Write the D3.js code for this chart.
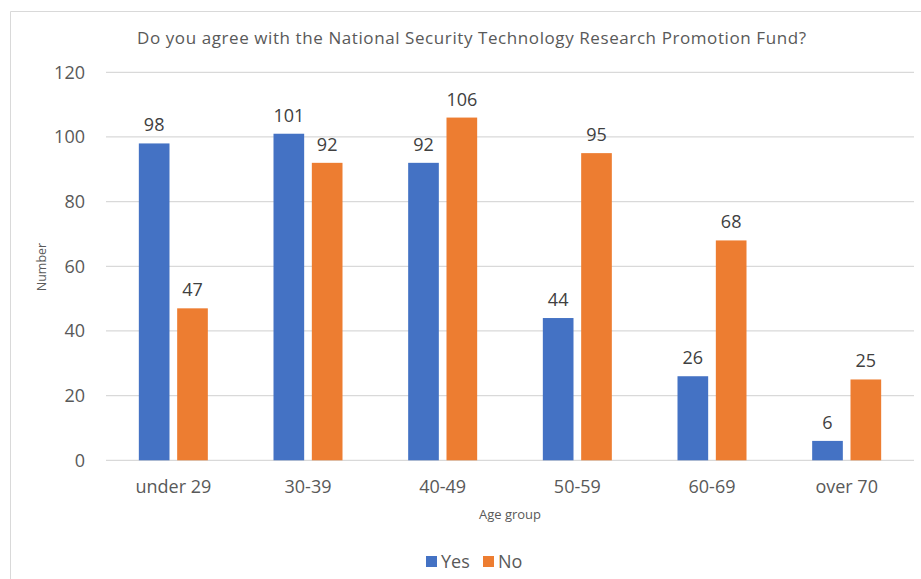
<!DOCTYPE html>
<html>
<head>
<meta charset="utf-8">
<script src="https://cdn.jsdelivr.net/npm/d3@7"></script>
<style>
    body { margin: 0; background: #fff; }
    text { font-family: "Open Sans", sans-serif; fill: #595959; }
</style>
</head>
<body>
<div id="chart"></div>
<script>
// chart data
var ageGroups = ["under 29", "30-39", "40-49", "50-59", "60-69", "over 70"];
var yesValues = [98, 101, 92, 44, 26, 6];
var noValues = [47, 92, 106, 95, 68, 25];
var seriesNames = ["Yes", "No"];
var seriesColors = ["#4472C4", "#ED7D31"];
var yTicks = [0, 20, 40, 60, 80, 100, 120];

var areaWidth = 921;
var areaHeight = 579;
var plotLeft = 106, plotRight = 914, plotTop = 72.3, plotBottom = 460.3;

var svg = d3.select("#chart").append("svg")
    .attr("width", areaWidth)
    .attr("height", areaHeight);

// chart border (only left and top visible in the frame)
svg.append("path")
    .attr("d", "M10.5," + areaHeight + "V11.5H" + areaWidth)
    .style("fill", "none")
    .style("stroke", "#d9d9d9")
    .style("stroke-width", 1);

var xScale = d3.scaleBand().domain(ageGroups).range([plotLeft, plotRight]).padding(0);
var pairWidth = 69;
var innerScale = d3.scaleBand().domain(seriesNames)
    .range([xScale.bandwidth() / 2 - pairWidth / 2, xScale.bandwidth() / 2 + pairWidth / 2])
    .paddingInner(0.2).paddingOuter(0);
var yScale = d3.scaleLinear().domain([0, 120]).range([plotBottom, plotTop]);

// gridlines
svg.append("g")
    .selectAll("line")
    .data(yTicks)
    .enter()
    .append("line")
    .attr("x1", plotLeft)
    .attr("x2", plotRight)
    .attr("y1", function(d) { return yScale(d); })
    .attr("y2", function(d) { return yScale(d); })
    .style("stroke", "#d9d9d9")
    .style("stroke-width", 1.3);

// y axis labels
var yAxis = d3.axisLeft(yScale).tickValues(yTicks).tickSize(0).tickPadding(21);
var yAxisG = svg.append("g")
    .attr("transform", "translate(" + plotLeft + ",0)")
    .call(yAxis);
yAxisG.select(".domain").remove();
yAxisG.selectAll("text")
    .style("font-size", "18px")
    .style("font-family", "Open Sans, sans-serif")
    .style("fill", "#595959");

// x axis labels
var xAxis = d3.axisBottom(xScale).tickSize(0).tickPadding(20);
var xAxisG = svg.append("g")
    .attr("transform", "translate(0," + plotBottom + ")")
    .call(xAxis);
xAxisG.select(".domain").remove();
xAxisG.selectAll("text")
    .style("font-size", "18px")
    .style("font-family", "Open Sans, sans-serif")
    .style("fill", "#595959");

// bars
var rows = ageGroups.map(function(g, i) {
    return { group: g, values: [
        { key: "Yes", value: yesValues[i] },
        { key: "No", value: noValues[i] }
    ] };
});

var groups = svg.append("g")
    .selectAll("g")
    .data(rows)
    .enter()
    .append("g")
    .attr("transform", function(d) { return "translate(" + xScale(d.group) + ",0)"; });

groups.selectAll("rect")
    .data(function(d) { return d.values; })
    .enter()
    .append("rect")
    .attr("x", function(d) { return innerScale(d.key); })
    .attr("y", function(d) { return yScale(d.value); })
    .attr("width", innerScale.bandwidth())
    .attr("height", function(d) { return plotBottom - yScale(d.value); })
    .style("fill", function(d) { return seriesColors[seriesNames.indexOf(d.key)]; });

// value labels
groups.selectAll("text")
    .data(function(d) { return d.values; })
    .enter()
    .append("text")
    .text(function(d) { return d.value; })
    .attr("x", function(d) { return innerScale(d.key) + innerScale.bandwidth() / 2; })
    .attr("y", function(d) { return yScale(d.value) - 12; })
    .attr("text-anchor", "middle")
    .style("font-size", "18px")
    .style("fill", "#404040");

// title
svg.append("text")
    .text("Do you agree with the National Security Technology Research Promotion Fund?")
    .attr("x", 137)
    .attr("y", 44)
    .attr("textLength", 669)
    .attr("lengthAdjust", "spacing")
    .style("font-size", "17px");

// axis titles
svg.append("text")
    .text("Number")
    .attr("transform", "translate(46,267) rotate(-90)")
    .attr("text-anchor", "middle")
    .style("font-size", "12.5px");

svg.append("text")
    .text("Age group")
    .attr("x", (plotLeft + plotRight) / 2)
    .attr("y", 519)
    .attr("text-anchor", "middle")
    .style("font-size", "13px");

// legend
var legendX = [426, 483];
var legend = svg.append("g")
    .selectAll("g")
    .data(seriesNames)
    .enter()
    .append("g")
    .attr("transform", function(d, i) { return "translate(" + legendX[i] + ",556)"; });

legend.append("rect")
    .attr("width", 11)
    .attr("height", 11)
    .style("fill", function(d, i) { return seriesColors[i]; });

legend.append("text")
    .text(function(d) { return d; })
    .attr("x", 15)
    .attr("y", 11.5)
    .style("font-size", "18px");
</script>
</body>
</html>
